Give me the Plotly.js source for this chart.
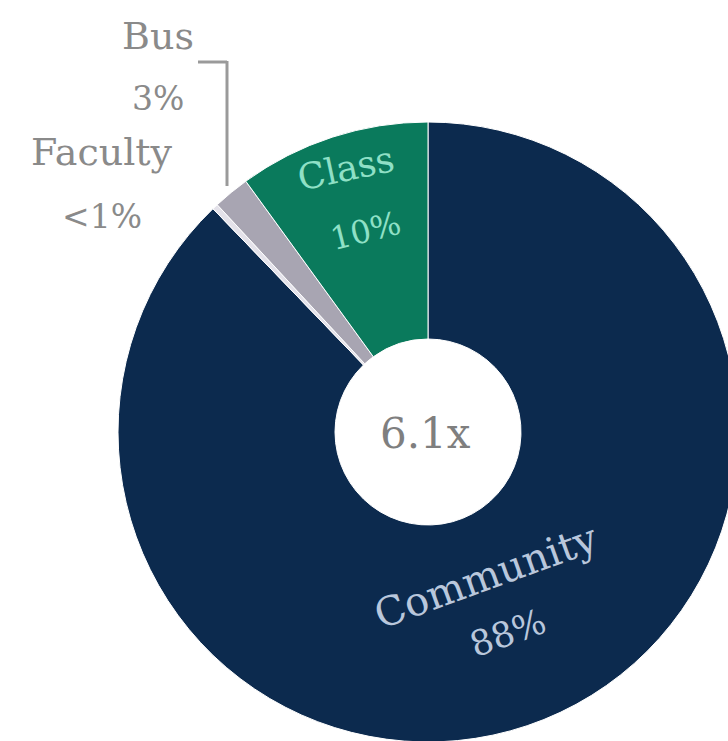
<!DOCTYPE html>
<html>
<head>
<meta charset="utf-8">
<script src="https://cdn.plot.ly/plotly-3.0.1.min.js"></script>
<style>
html,body{margin:0;padding:0;overflow:hidden;background:#fff;width:728px;height:741px;}
#chart{width:760px;height:760px;}
</style>
</head>
<body>
<div id="chart"></div>
<script>
// Data
const categories = ["Community", "Faculty", "Bus", "Class"];
const values = [87.8, 0.3, 1.9, 10];
const pctLabels = ["88%", "<1%", "3%", "10%"];
const centerLabel = "6.1x";

const colors = ["#0c2a4e", "#e4e2ea", "#a8a5b2", "#0a7a5c"];

const W = 760, H = 760;
const px = x => x / W;
const py = y => 1 - y / H;

const font = "DejaVu Serif, serif";

const trace = {
  type: "pie",
  labels: categories,
  values: values,
  sort: false,
  direction: "clockwise",
  rotation: 0,
  hole: 0.30,
  textinfo: "none",
  hoverinfo: "label+percent",
  marker: {colors: colors, line: {color: "#ffffff", width: 1}},
  domain: {x: [px(118), px(738)], y: [py(742), py(122)]},
  showlegend: false
};

function ann(text, x, y, color, size, angle) {
  return {
    text: text, xref: "paper", yref: "paper", x: px(x), y: py(y),
    xanchor: "center", yanchor: "middle", showarrow: false,
    textangle: angle || 0,
    font: {family: font, size: size, color: color}
  };
}

const annotations = [
  ann(categories[2], 158, 36, "#8a8a8a", 38),
  ann(pctLabels[2], 158, 98, "#8a8a8a", 33),
  ann(categories[1], 102, 152, "#8a8a8a", 38),
  ann(pctLabels[1], 102, 216, "#8a8a8a", 33),
  ann(categories[3], 345, 168, "#8fe0c6", 36, -12),
  ann(pctLabels[3], 365, 231, "#8fe0c6", 32, -14),
  ann(categories[0], 486, 576, "#b9c7dc", 40, -20),
  ann(pctLabels[0], 508, 633, "#b9c7dc", 35, -20),
  ann(centerLabel, 425, 433, "#7f7f7f", 42)
];

const shapes = [
  {type: "line", xref: "paper", yref: "paper", x0: px(198), y0: py(62), x1: px(227), y1: py(62),
   line: {color: "#9a9a9a", width: 3}},
  {type: "line", xref: "paper", yref: "paper", x0: px(227), y0: py(61), x1: px(227), y1: py(186),
   line: {color: "#9a9a9a", width: 3}}
];

const layout = {
  width: W, height: H,
  margin: {l: 0, r: 0, t: 0, b: 0},
  paper_bgcolor: "#ffffff",
  plot_bgcolor: "#ffffff",
  annotations: annotations,
  shapes: shapes,
  showlegend: false
};

Plotly.newPlot("chart", [trace], layout, {displayModeBar: false, staticPlot: true});
</script>
</body>
</html>
